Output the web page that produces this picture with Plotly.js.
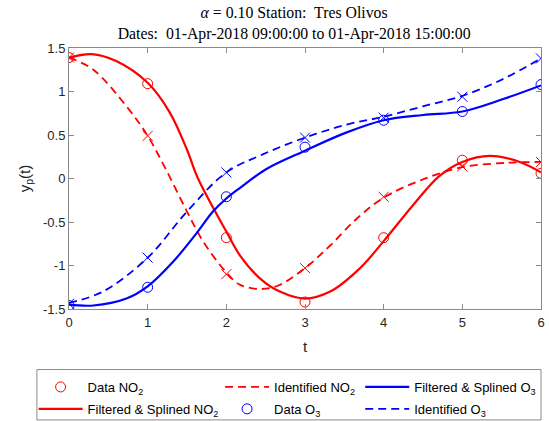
<!DOCTYPE html>
<html>
<head>
<meta charset="utf-8">
<script src="https://cdn.plot.ly/plotly-3.0.1.min.js"></script>
<style>html,body{margin:0;padding:0;background:#fff;}#chart{width:549px;height:421px;}</style>
</head>
<body>
<div id="chart"></div>
<script>
// Sample times of the data
const tData = [0, 1, 2, 3, 4, 5, 6];
const no2Data = [1.39, 1.09, -0.68, -1.42, -0.68, 0.21, 0.06];
const no2Ident = [1.39, 0.49, -1.10, -1.03, -0.21, 0.14, 0.19];
const o3Data = [-1.46, -1.25, -0.21, 0.36, 0.67, 0.77, 1.08];
const o3Ident = [-1.44, -0.91, 0.07, 0.47, 0.70, 0.94, 1.38];

// Filtered & splined NO2 curve
const tNo2Filt = [0, 0.29, 0.6, 1.0, 1.28, 1.5, 1.64, 2.0, 2.17, 2.43, 2.68, 3.0, 3.32, 3.7, 4.0, 4.37, 4.71, 5.0, 5.35, 5.73, 6.0];
const no2Filt = [1.39, 1.43, 1.35, 1.10, 0.76, 0.33, 0.0, -0.61, -0.88, -1.15, -1.30, -1.38, -1.30, -1.03, -0.72, -0.31, 0.03, 0.19, 0.26, 0.19, 0.07];
// Identified NO2 curve
const tNo2Id = [0, 0.31, 0.73, 1.0, 1.24, 1.5, 1.71, 2.0, 2.17, 2.43, 2.66, 3.0, 3.32, 3.66, 4.0, 4.5, 5.0, 5.56, 6.0];
const no2IdCurve = [1.39, 1.25, 0.83, 0.49, 0.09, -0.38, -0.73, -1.08, -1.22, -1.27, -1.23, -1.03, -0.77, -0.46, -0.22, -0.01, 0.13, 0.18, 0.19];
// Filtered & splined O3 curve
const tO3Filt = [0, 0.31, 0.73, 1.0, 1.32, 1.62, 1.83, 2.0, 2.17, 2.51, 3.0, 3.53, 4.0, 4.5, 5.0, 5.51, 6.0];
const o3Filt = [-1.45, -1.46, -1.38, -1.24, -0.96, -0.63, -0.38, -0.23, -0.11, 0.11, 0.32, 0.53, 0.67, 0.73, 0.77, 0.91, 1.07];
// Identified O3 curve
const tO3Id = [0, 0.43, 1.0, 1.5, 2.0, 2.47, 3.0, 3.53, 4.0, 4.5, 5.0, 5.51, 6.0];
const o3IdCurve = [-1.43, -1.30, -0.91, -0.38, 0.07, 0.28, 0.47, 0.62, 0.71, 0.83, 0.95, 1.14, 1.38];

const xTicks = [0, 1, 2, 3, 4, 5, 6];
const yTicks = [1.5, 1, 0.5, 0, -0.5, -1, -1.5];
const yTickText = ['1.5', '1', '0.5', '0', '-0.5', '-1', '-1.5'];

const RED = '#ff0000', BLUE = '#0000ff';
const DASH = '8px,5px';
const AXIS = '#8a8a8a';

const traces = [
  {x: tData, y: no2Data, type: 'scatter', mode: 'markers', name: 'Data NO<sub>2</sub>', legend: 'legend', legendgroup: 'a',
   marker: {symbol: 'circle-open', size: 10, color: RED, line: {width: 1, color: RED}}},
  {x: tNo2Filt, y: no2Filt, type: 'scatter', mode: 'lines', name: 'Filtered & Splined NO<sub>2</sub>', legend: 'legend', legendgroup: 'b',
   line: {color: RED, width: 2.2, shape: 'spline', smoothing: 1}},
  {x: tNo2Id, y: no2IdCurve, type: 'scatter', mode: 'lines', name: 'Identified NO<sub>2</sub>', legend: 'legend2', legendgroup: 'c',
   line: {color: RED, width: 1.8, dash: DASH, shape: 'spline', smoothing: 1}},
  {x: tData, y: no2Ident, type: 'scatter', mode: 'markers', showlegend: false,
   marker: {symbol: 'x-thin-open', size: 10, color: RED, line: {width: 1, color: RED}}},
  {x: tData, y: o3Data, type: 'scatter', mode: 'markers', name: 'Data O<sub>3</sub>', legend: 'legend2', legendgroup: 'd',
   marker: {symbol: 'circle-open', size: 10, color: BLUE, line: {width: 1, color: BLUE}}},
  {x: tO3Filt, y: o3Filt, type: 'scatter', mode: 'lines', name: 'Filtered & Splined O<sub>3</sub>', legend: 'legend3', legendgroup: 'e',
   line: {color: BLUE, width: 2.2, shape: 'spline', smoothing: 1}},
  {x: tO3Id, y: o3IdCurve, type: 'scatter', mode: 'lines', name: 'Identified O<sub>3</sub>', legend: 'legend3', legendgroup: 'f',
   line: {color: BLUE, width: 1.8, dash: DASH, shape: 'spline', smoothing: 1}},
  {x: tData, y: o3Ident, type: 'scatter', mode: 'markers', showlegend: false,
   marker: {symbol: 'x-thin-open', size: 10, color: BLUE, line: {width: 1, color: BLUE}}}
];

const legendBase = {
  orientation: 'v', xanchor: 'left', yanchor: 'top', yref: 'container', y: 1 - 372 / 421,
  bgcolor: 'rgba(0,0,0,0)', borderwidth: 0, itemwidth: 44,
  font: {family: 'Liberation Sans, Arial, sans-serif', size: 13, color: '#000'},
  tracegroupgap: 2, traceorder: 'grouped'
};

const layout = {
  width: 549, height: 421,
  margin: {l: 69, r: 8, t: 48, b: 112, pad: 0, autoexpand: false},
  paper_bgcolor: '#fff', plot_bgcolor: '#fff',
  font: {family: 'Liberation Sans, Arial, sans-serif', size: 13, color: '#262626'},
  title: {
    text: '<i>α</i> = 0.10 Station:  Tres Olivos<br>Dates:  01-Apr-2018 09:00:00 to 01-Apr-2018 15:00:00',
    font: {family: 'Liberation Serif, Times New Roman, serif', size: 15.8, color: '#000'},
    x: 0.477, xanchor: 'center', xref: 'paper', y: 1, yanchor: 'bottom', yref: 'paper',
    pad: {b: 30}
  },
  xaxis: {
    range: [0, 6], tickvals: xTicks, ticks: 'inside', ticklen: 5, tickcolor: AXIS,
    showline: true, linecolor: AXIS, linewidth: 1, mirror: 'ticks', showgrid: false, zeroline: false,
    tickfont: {size: 13, color: '#262626'}, ticklabelstandoff: 1,
    title: {text: 't', font: {size: 15, color: '#262626'}, standoff: 12}
  },
  yaxis: {
    range: [-1.5, 1.5], tickvals: yTicks, ticktext: yTickText, ticks: 'inside', ticklen: 5, tickcolor: AXIS,
    showline: true, linecolor: AXIS, linewidth: 1, mirror: 'ticks', showgrid: false, zeroline: false,
    tickfont: {size: 13, color: '#262626'},
    title: {text: 'y<sub>p</sub>(t)', font: {size: 15, color: '#262626'}, standoff: 8}
  },
  legend: Object.assign({}, legendBase, {x: -0.075}),
  legend2: Object.assign({}, legendBase, {x: 0.32}),
  legend3: Object.assign({}, legendBase, {x: 0.617}),
  shapes: [{
    type: 'rect', xref: 'paper', yref: 'paper', x0: -0.068, x1: 1.0, y0: -0.425, y1: -0.232,
    line: {color: AXIS, width: 1}, fillcolor: 'rgba(0,0,0,0)'
  }],
  showlegend: true
};

Plotly.newPlot('chart', traces, layout, {displayModeBar: false, staticPlot: true});
</script>
</body>
</html>
